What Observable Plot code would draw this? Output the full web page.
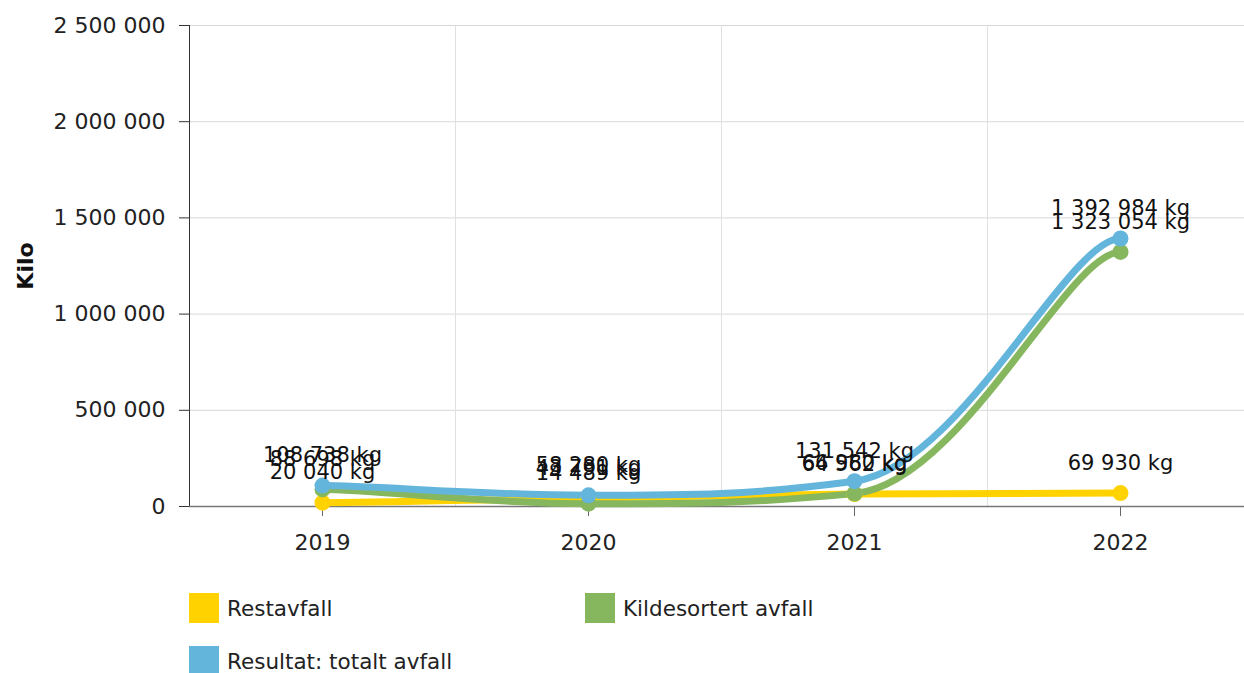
<!DOCTYPE html>
<html>
<head>
<meta charset="utf-8">
<script src="https://cdn.jsdelivr.net/npm/d3@7"></script>
<script src="https://cdn.jsdelivr.net/npm/@observablehq/plot@0.6"></script>
<style>
  html, body { margin: 0; padding: 0; background: #fff; overflow: hidden; }
  body { width: 1244px; height: 673px; position: relative; font-family: "DejaVu Sans", Verdana, sans-serif; }
  #chart { position: absolute; left: 0; top: 0; }
  .legend-item { position: absolute; display: flex; align-items: center; font-size: 21.5px; color: #222; }
  .legend-item .sw { width: 30px; height: 30px; margin-right: 8px; }
</style>
</head>
<body>
<div id="chart"></div>
<div id="legend"></div>
<script>
const years = [2019, 2020, 2021, 2022];
const restavfall = [20040, 43791, 64562, 69930];
const kildesortert = [88698, 14489, 66980, 1323054];
const totalt = [108738, 58280, 131542, 1392984];
const seriesNames = ["Restavfall", "Kildesortert avfall", "Resultat: totalt avfall"];
const seriesColors = ["#ffd200", "#86b75f", "#64b5dc"];
const yTicks = [0, 500000, 1000000, 1500000, 2000000, 2500000];

const seriesValues = [restavfall, kildesortert, totalt];
const data = [];
seriesValues.forEach((vals, si) => {
  vals.forEach((v, i) => data.push({ year: years[i], value: v, series: seriesNames[si] }));
});

const fmt = v => d3.format(",")(v).replace(/,/g, " ");

// Smoothed spline curve (smoothing 1.5), with soft horizontal handles at the ends
function splineCurve(context) {
  let pts;
  return {
    areaStart() {}, areaEnd() {},
    lineStart() { pts = []; },
    point(x, y) { pts.push([+x, +y]); },
    lineEnd() {
      const n = pts.length;
      if (!n) return;
      const s = 1.5, den = s + 1;
      const lc = [], rc = [];
      for (let i = 0; i < n; i++) {
        const [px, py] = pts[i];
        if (i > 0 && i < n - 1) {
          const [lx, ly] = pts[i - 1], [nx, ny] = pts[i + 1];
          let lcx = (s * px + lx) / den, lcy = (s * py + ly) / den;
          let rcx = (s * px + nx) / den, rcy = (s * py + ny) / den;
          if (rcx !== lcx) {
            const corr = ((rcy - lcy) * (rcx - px)) / (rcx - lcx) + py - rcy;
            lcy += corr; rcy += corr;
          }
          if (lcy > ly && lcy > py) { lcy = Math.max(ly, py); rcy = 2 * py - lcy; }
          else if (lcy < ly && lcy < py) { lcy = Math.min(ly, py); rcy = 2 * py - lcy; }
          if (rcy > ny && rcy > py) { rcy = Math.max(ny, py); lcy = 2 * py - rcy; }
          else if (rcy < ny && rcy < py) { rcy = Math.min(ny, py); lcy = 2 * py - rcy; }
          lc[i] = [lcx, lcy]; rc[i] = [rcx, rcy];
        } else if (i === 0 && n > 1) {
          lc[i] = [px, py]; rc[i] = [px + (pts[1][0] - px) / 5, py];
        } else if (i === n - 1 && n > 1) {
          lc[i] = [px - (px - pts[n - 2][0]) / 5, py]; rc[i] = [px, py];
        } else {
          lc[i] = [px, py]; rc[i] = [px, py];
        }
      }
      context.moveTo(pts[0][0], pts[0][1]);
      for (let i = 1; i < n; i++) {
        context.bezierCurveTo(rc[i - 1][0], rc[i - 1][1], lc[i][0], lc[i][1], pts[i][0], pts[i][1]);
      }
    }
  };
}

const chart = Plot.plot({
  width: 1244,
  height: 570,
  marginTop: 25,
  marginBottom: 64,
  marginLeft: 189,
  marginRight: 0,
  style: { fontFamily: "'DejaVu Sans', Verdana, sans-serif", fontSize: "21px", color: "#222", overflow: "hidden" },
  x: { domain: [2018.5, 2022.5], range: [189, 1253], label: null },
  y: { domain: [0, 2500000], label: null },
  color: { domain: seriesNames, range: seriesColors },
  marks: [
    Plot.gridY(yTicks, { stroke: "#d8d8d8", strokeOpacity: 1, strokeWidth: 1 }),
    Plot.gridX([2019.5, 2020.5, 2021.5], { stroke: "#e0e0e0", strokeOpacity: 1, strokeWidth: 1 }),
    Plot.axisY({ ticks: yTicks, tickFormat: fmt, tickSize: 10, tickPadding: 14, label: null, stroke: "#333", fontSize: 22 }),
    Plot.ruleX([2018.5], { stroke: "#333", strokeWidth: 1 }),
    Plot.axisX({ ticks: years, tickFormat: d => String(d), tickSize: 10, tickPadding: 18, label: null, stroke: "#666", fontSize: 22 }),
    Plot.ruleY([0], { stroke: "#777", strokeWidth: 1.5 }),
    Plot.line(data, { x: "year", y: "value", z: "series", stroke: "series", strokeWidth: 7, curve: splineCurve }),
    Plot.dot(data, { x: "year", y: "value", fill: "series", r: 8, stroke: null }),
    Plot.text(data, { x: "year", y: "value", text: d => fmt(d.value) + " kg", dy: -30, fill: "#111", fontSize: 21 }),
    Plot.text(["Kilo"], { frameAnchor: "left", textAnchor: "middle", dx: -164, rotate: -90, fontWeight: "bold", fontSize: 22, fill: "#111" })
  ]
});
document.getElementById("chart").appendChild(chart);

const legend = document.getElementById("legend");
const positions = [[189, 593], [585, 593], [189, 646]];
seriesNames.forEach((name, i) => {
  const item = document.createElement("div");
  item.className = "legend-item";
  item.style.left = positions[i][0] + "px";
  item.style.top = positions[i][1] + "px";
  item.innerHTML = `<div class="sw" style="background:${seriesColors[i]}"></div><span>${name}</span>`;
  legend.appendChild(item);
});
</script>
</body>
</html>
